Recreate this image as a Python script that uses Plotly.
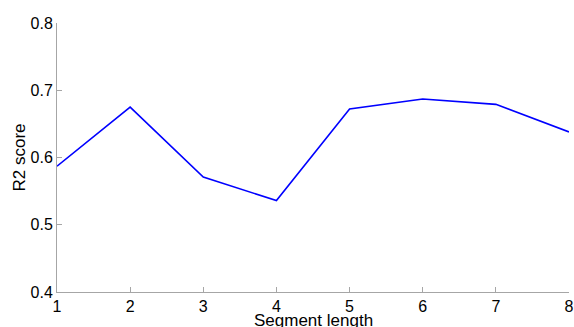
import plotly.graph_objects as go

segment_length = [1, 2, 3, 4, 5, 6, 7, 8]
r2_score = [0.587, 0.675, 0.571, 0.536, 0.672, 0.687, 0.679, 0.638]
x_ticks = [1, 2, 3, 4, 5, 6, 7, 8]
y_ticks = [0.4, 0.5, 0.6, 0.7, 0.8]

FONT = "Liberation Sans, Arial"

fig = go.Figure()
fig.add_trace(go.Scatter(x=segment_length, y=r2_score, mode="lines",
                         line=dict(color="#0000ff", width=1.6)))

axis_common = dict(showgrid=False, zeroline=False, showline=True, linecolor="#a6a6a6",
                   linewidth=1, ticks="inside", ticklen=5, tickcolor="#a6a6a6",
                   automargin=False,
                   tickfont=dict(family=FONT, size=16, color="black"))
fig.update_layout(
    width=574, height=327,
    margin=dict(l=57, r=5, t=23, b=35),
    plot_bgcolor="white", paper_bgcolor="white",
    showlegend=False,
    font=dict(family=FONT, size=16, color="black"),
    xaxis=dict(range=[1, 8.0001], tickvals=x_ticks, ticktext=[str(v) for v in x_ticks],
               ticklabeloverflow="allow", **axis_common),
    yaxis=dict(range=[0.4, 0.8], tickvals=y_ticks, ticktext=[f"{v:.1f}" for v in y_ticks],
               **axis_common),
    annotations=[
        dict(text="Segment length", xref="paper", yref="paper", x=0.5, y=0,
             xanchor="center", yanchor="top", yshift=-17, showarrow=False,
             font=dict(family=FONT, size=17, color="black")),
        dict(text="R2 score", xref="paper", yref="paper", x=0, y=0.5,
             xanchor="center", yanchor="middle", xshift=-38, textangle=-90,
             showarrow=False, font=dict(family=FONT, size=17, color="black")),
    ],
)
fig.write_html("out.html", config={"displayModeBar": False},
               post_script="document.body.style.margin='0';document.body.style.overflow='hidden';")
